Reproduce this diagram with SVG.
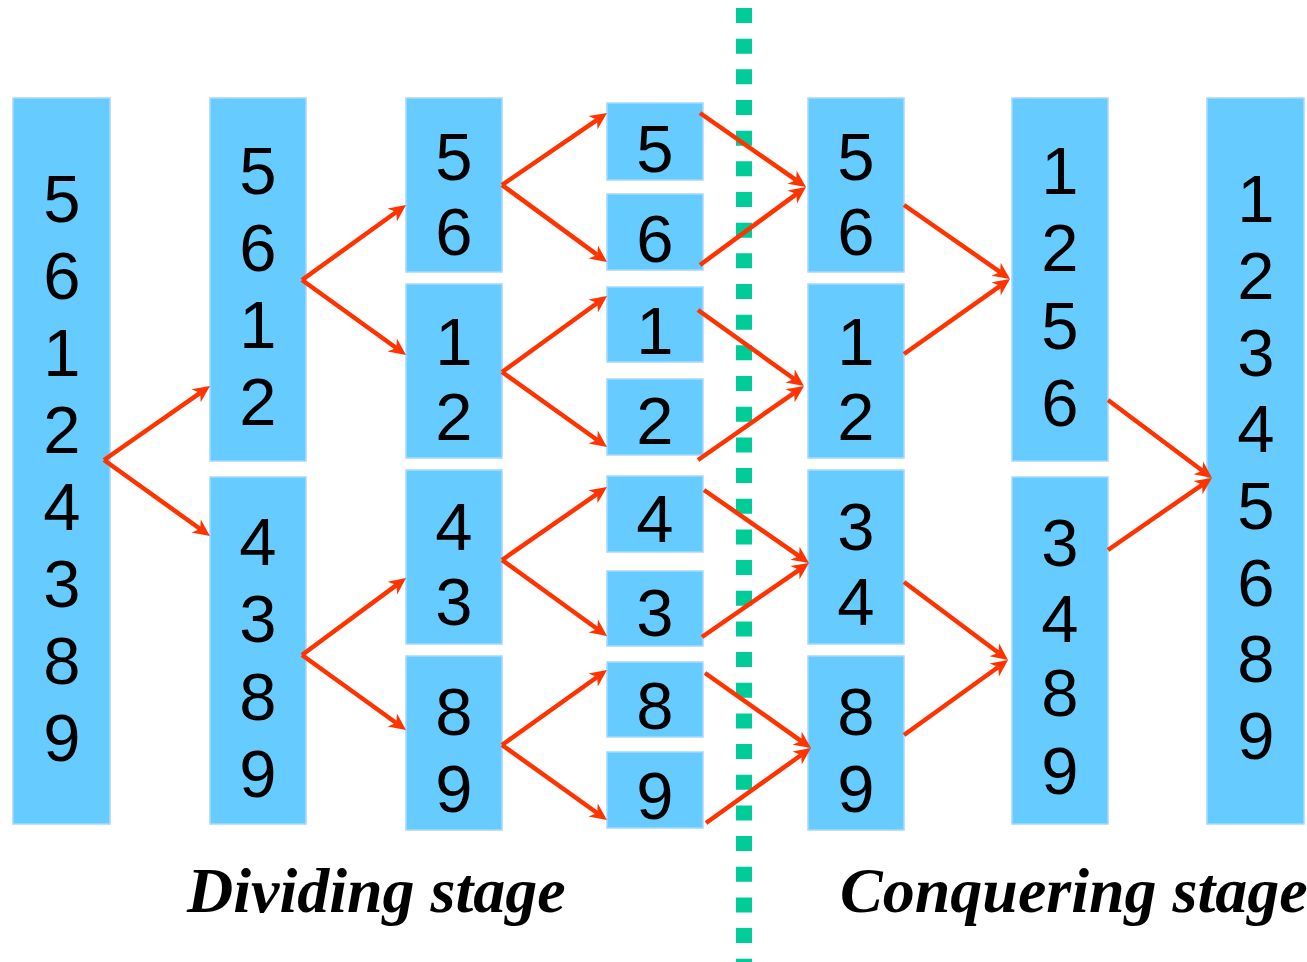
<svg xmlns="http://www.w3.org/2000/svg" width="1307" height="962" viewBox="0 0 1307 962">
  <style>
    .box { fill: #66CCFF; stroke: #A6D8FF; stroke-width: 1.5; }
    .num { font-family: "Liberation Sans", Arial, sans-serif; font-size: 67px; fill: #000; text-anchor: middle; }
    .arrow { stroke: #FF3300; stroke-width: 4.5; fill: none; marker-end: url(#head); }
    .stage { font-family: "Liberation Serif", "Times New Roman", serif; font-size: 64px; font-weight: bold; font-style: italic; fill: #000; }
    .divider { stroke: #00CC99; stroke-width: 16; stroke-dasharray: 15 15.67; fill: none; }
  </style>
  <defs>
    <!-- notched arrowhead; the line ends at the notch, tip sits 12px further on -->
    <marker id="head" markerUnits="userSpaceOnUse" markerWidth="20" markerHeight="20" viewBox="-1 -9 20 18" refX="5" refY="0" orient="auto">
      <path d="M0,-8 L17,0 L0,8 L5,0 Z" fill="#FF3300"/>
    </marker>
  </defs>

  <rect width="1307" height="962" fill="#FFFFFF"/>

  <!-- divider between the two stages -->
  <line class="divider" x1="744" y1="8" x2="744" y2="962"/>

  <!-- column 1 -->
  <g id="c1">
    <rect class="box" x="13" y="98" width="97" height="726"/>
    <text class="num" x="62" y="222">5</text>
    <text class="num" x="62" y="299">6</text>
    <text class="num" x="62" y="376">1</text>
    <text class="num" x="62" y="453">2</text>
    <text class="num" x="62" y="530">4</text>
    <text class="num" x="62" y="607">3</text>
    <text class="num" x="62" y="684">8</text>
    <text class="num" x="62" y="761">9</text>
  </g>

  <!-- column 2 -->
  <g id="c2a">
    <rect class="box" x="210" y="98" width="96" height="363"/>
    <text class="num" x="258" y="194">5</text>
    <text class="num" x="258" y="271">6</text>
    <text class="num" x="258" y="348">1</text>
    <text class="num" x="258" y="425">2</text>
  </g>
  <g id="c2b">
    <rect class="box" x="210" y="477" width="96" height="347"/>
    <text class="num" x="258" y="565">4</text>
    <text class="num" x="258" y="642">3</text>
    <text class="num" x="258" y="720">8</text>
    <text class="num" x="258" y="797">9</text>
  </g>

  <!-- column 3 -->
  <g id="c3a">
    <rect class="box" x="406" y="98" width="96" height="174"/>
    <text class="num" x="454" y="180">5</text>
    <text class="num" x="454" y="255">6</text>
  </g>
  <g id="c3b">
    <rect class="box" x="406" y="284" width="96" height="174"/>
    <text class="num" x="454" y="365">1</text>
    <text class="num" x="454" y="440">2</text>
  </g>
  <g id="c3c">
    <rect class="box" x="406" y="470" width="96" height="174"/>
    <text class="num" x="454" y="550">4</text>
    <text class="num" x="454" y="625">3</text>
  </g>
  <g id="c3d">
    <rect class="box" x="406" y="656" width="96" height="174"/>
    <text class="num" x="454" y="735">8</text>
    <text class="num" x="454" y="812">9</text>
  </g>

  <!-- column 4 -->
  <g id="c4a"><rect class="box" x="607" y="103" width="96" height="77"/><text class="num" x="655" y="172">5</text></g>
  <g id="c4b"><rect class="box" x="607" y="194" width="96" height="76"/><text class="num" x="655" y="262">6</text></g>
  <g id="c4c"><rect class="box" x="607" y="287" width="96" height="75"/><text class="num" x="655" y="354">1</text></g>
  <g id="c4d"><rect class="box" x="607" y="379" width="96" height="76"/><text class="num" x="655" y="444">2</text></g>
  <g id="c4e"><rect class="box" x="607" y="476" width="96" height="76"/><text class="num" x="655" y="542">4</text></g>
  <g id="c4f"><rect class="box" x="607" y="571" width="96" height="75"/><text class="num" x="655" y="636">3</text></g>
  <g id="c4g"><rect class="box" x="607" y="662" width="96" height="75"/><text class="num" x="655" y="729">8</text></g>
  <g id="c4h"><rect class="box" x="607" y="752" width="96" height="76"/><text class="num" x="655" y="819">9</text></g>

  <!-- column 5 -->
  <g id="c5a">
    <rect class="box" x="808" y="98" width="96" height="174"/>
    <text class="num" x="856" y="180">5</text>
    <text class="num" x="856" y="255">6</text>
  </g>
  <g id="c5b">
    <rect class="box" x="808" y="284" width="96" height="174"/>
    <text class="num" x="856" y="365">1</text>
    <text class="num" x="856" y="440">2</text>
  </g>
  <g id="c5c">
    <rect class="box" x="808" y="470" width="96" height="174"/>
    <text class="num" x="856" y="550">3</text>
    <text class="num" x="856" y="625">4</text>
  </g>
  <g id="c5d">
    <rect class="box" x="808" y="656" width="96" height="174"/>
    <text class="num" x="856" y="735">8</text>
    <text class="num" x="856" y="812">9</text>
  </g>

  <!-- column 6 -->
  <g id="c6a">
    <rect class="box" x="1012" y="98" width="96" height="363"/>
    <text class="num" x="1060" y="194">1</text>
    <text class="num" x="1060" y="271">2</text>
    <text class="num" x="1060" y="349">5</text>
    <text class="num" x="1060" y="426">6</text>
  </g>
  <g id="c6b">
    <rect class="box" x="1012" y="477" width="96" height="347"/>
    <text class="num" x="1060" y="566">3</text>
    <text class="num" x="1060" y="642">4</text>
    <text class="num" x="1060" y="716">8</text>
    <text class="num" x="1060" y="794">9</text>
  </g>

  <!-- column 7 -->
  <g id="c7">
    <rect class="box" x="1207" y="98" width="97" height="726"/>
    <text class="num" x="1256" y="222">1</text>
    <text class="num" x="1256" y="299">2</text>
    <text class="num" x="1256" y="376">3</text>
    <text class="num" x="1256" y="452">4</text>
    <text class="num" x="1256" y="529">5</text>
    <text class="num" x="1256" y="606">6</text>
    <text class="num" x="1256" y="682">8</text>
    <text class="num" x="1256" y="759">9</text>
  </g>

  <!-- connectors -->
  <g id="connectors">
    <line class="arrow" x1="104" y1="460" x2="200.2" y2="392.9"/>
    <line class="arrow" x1="104" y1="460" x2="200.2" y2="529.0"/>

    <line class="arrow" x1="302" y1="280" x2="396.3" y2="212.0"/>
    <line class="arrow" x1="302" y1="280" x2="396.3" y2="348.0"/>
    <line class="arrow" x1="302" y1="655" x2="396.4" y2="585.1"/>
    <line class="arrow" x1="302" y1="655" x2="396.3" y2="723.0"/>

    <line class="arrow" x1="502" y1="185" x2="597.1" y2="119.8"/>
    <line class="arrow" x1="502" y1="185" x2="597.3" y2="254.9"/>
    <line class="arrow" x1="502" y1="372" x2="597.3" y2="303.0"/>
    <line class="arrow" x1="502" y1="372" x2="597.2" y2="440.0"/>
    <line class="arrow" x1="502" y1="560" x2="597.1" y2="493.9"/>
    <line class="arrow" x1="502" y1="560" x2="597.3" y2="629.0"/>
    <line class="arrow" x1="502" y1="745" x2="597.2" y2="677.0"/>
    <line class="arrow" x1="502" y1="745" x2="597.2" y2="813.0"/>

    <line class="arrow" x1="700" y1="113" x2="796.2" y2="180.1"/>
    <line class="arrow" x1="700" y1="265" x2="796.3" y2="194.1"/>
    <line class="arrow" x1="698" y1="310" x2="794.2" y2="379.0"/>
    <line class="arrow" x1="698" y1="460" x2="794.2" y2="392.9"/>
    <line class="arrow" x1="704" y1="490" x2="799.1" y2="556.1"/>
    <line class="arrow" x1="702" y1="637" x2="799.1" y2="569.8"/>
    <line class="arrow" x1="705" y1="673" x2="801.2" y2="741.1"/>
    <line class="arrow" x1="706" y1="823" x2="801.2" y2="755.0"/>

    <line class="arrow" x1="904" y1="205" x2="1000.2" y2="272.1"/>
    <line class="arrow" x1="904" y1="354" x2="1000.2" y2="285.9"/>
    <line class="arrow" x1="904" y1="582" x2="998.4" y2="652.8"/>
    <line class="arrow" x1="904" y1="735" x2="998.3" y2="667.0"/>

    <line class="arrow" x1="1108" y1="400" x2="1202.4" y2="470.8"/>
    <line class="arrow" x1="1108" y1="550" x2="1202.1" y2="484.8"/>
  </g>

  <!-- stage captions -->
  <text class="stage" x="187" y="912">Dividing stage</text>
  <text class="stage" x="840" y="912">Conquering stage</text>
</svg>
